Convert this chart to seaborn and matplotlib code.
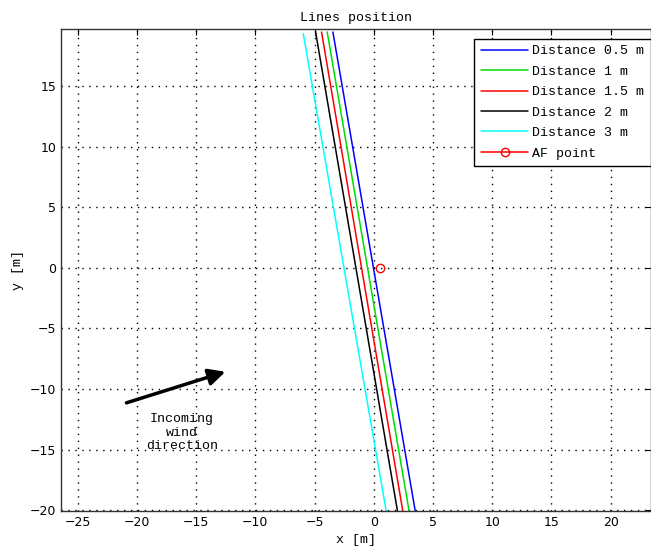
import seaborn as sns
import matplotlib.pyplot as plt

# line endpoints (x at top / bottom of each line)
series_names = ['Distance 0.5 m', 'Distance 1 m', 'Distance 1.5 m', 'Distance 2 m', 'Distance 3 m']
series_colors = ['blue', '#00dd00', 'red', 'black', 'cyan']
x_top = [-3.45, -3.93, -4.41, -4.91, -5.95]
x_bottom = [3.5, 2.98, 2.45, 2.0, 1.05]
y_top = [19.45, 19.45, 19.45, 19.45, 19.3]
y_bottom = [-20.05, -20.05, -20.05, -20.05, -20.05]

af_x = [0.5]
af_y = [0.0]

x_ticks = [-25, -20, -15, -10, -5, 0, 5, 10, 15, 20]
y_ticks = [-20, -15, -10, -5, 0, 5, 10, 15]

sns.set_style('white')
plt.rcParams['font.family'] = ['DejaVu Sans']
plt.rcParams['text.color'] = 'black'
plt.rcParams['axes.labelcolor'] = 'black'
mono = ['Liberation Mono', 'DejaVu Sans Mono']

fig = plt.figure(figsize=(6.51, 5.55), dpi=100)
ax = fig.add_axes([0.0937, 0.0793, 0.9063, 0.8685])

for i in range(len(series_names)):
    sns.lineplot(x=[x_top[i], x_bottom[i]], y=[y_top[i], y_bottom[i]],
                 color=series_colors[i], label=series_names[i],
                 sort=False, linewidth=1.1, ax=ax)

ax.plot(af_x, af_y, color='red', marker='o', markerfacecolor='none',
        markersize=6, linewidth=1.1, label='AF point')

ax.set_xlim(-26.4, 23.4)
ax.set_ylim(-20.05, 19.7)
ax.set_xticks(x_ticks)
ax.set_yticks(y_ticks)
ax.grid(True, color='black', linestyle=(0, (1, 4)), linewidth=1)
ax.tick_params(direction='in', length=4, top=True, right=True, labelsize=9, colors='black')
for s in ax.spines.values():
    s.set_color('#333333')
    s.set_linewidth(1)

ax.set_title('Lines position', fontsize=9.5, pad=6, color='black', family=mono)
ax.set_xlabel('x [m]', fontsize=9.5, family=mono)
ax.set_ylabel('y [m]', fontsize=9.5, family=mono)

ax.annotate('', xy=(-12.3, -8.5), xytext=(-21.1, -11.2),
            arrowprops=dict(arrowstyle='-|>', lw=2.5, color='black', mutation_scale=25))
ax.text(-16.2, -13.6, 'Incoming\nwind\ndirection', ha='center', va='center',
        fontsize=9.5, linespacing=1.15, family=mono)

leg = ax.legend(loc='upper right', bbox_to_anchor=(1.0, 0.98),
                prop={'family': mono, 'size': 9.5},
                frameon=True, fancybox=False, edgecolor='black', framealpha=1,
                borderpad=0.5, labelspacing=0.62, handlelength=3.6, handletextpad=0.3,
                borderaxespad=0)
leg.get_frame().set_linewidth(1)

plt.savefig('out.png', dpi=100)
